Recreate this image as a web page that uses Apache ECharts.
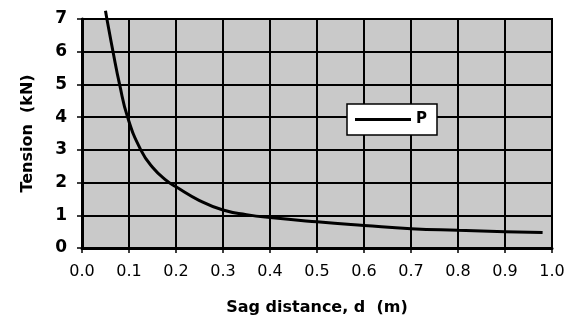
<!DOCTYPE html>
<html>
<head>
<meta charset="utf-8">
<script src="https://cdn.jsdelivr.net/npm/echarts@6/dist/echarts.min.js"></script>
<style>
  html, body { margin: 0; padding: 0; background: #fff; }
  #chart { width: 576px; height: 327px; }
</style>
</head>
<body>
<div id="chart"></div>
<script>
// Cable tension P against sag distance d
const sagDistance = [0.05, 0.053, 0.066, 0.08, 0.097, 0.125, 0.15, 0.18, 0.2, 0.25, 0.3, 0.35, 0.4, 0.5, 0.6, 0.7, 0.8, 0.9, 0.98];
const tensionP    = [7.25, 7.0, 6.0, 5.0, 4.0, 3.0, 2.47, 2.06, 1.87, 1.45, 1.16, 1.02, 0.93, 0.8, 0.69, 0.59, 0.54, 0.5, 0.47];
const seriesName = 'P';
const xTitle = 'Sag distance, d  (m)';
const yTitle = 'Tension  (kN)';

const chart = echarts.init(document.getElementById('chart'), null, { renderer: 'canvas' });

const titleFont = { fontFamily: 'DejaVu Sans', fontWeight: 'bold', fontSize: 16, color: '#000' };

chart.setOption({
  animation: false,
  backgroundColor: '#fff',
  grid: {
    left: 82, right: 24, top: 19, bottom: 79,
    show: true,
    backgroundColor: '#c9c9c9',
    borderColor: '#000',
    borderWidth: 2
  },
  legend: {
    data: [seriesName],
    icon: 'rect',
    left: 347, top: 104,
    padding: [8, 10, 8, 8],
    itemWidth: 56, itemHeight: 3, itemGap: 6,
    backgroundColor: '#fff',
    borderColor: '#000',
    borderWidth: 1.5,
    borderRadius: 0,
    itemStyle: { color: '#000' },
    textStyle: { fontFamily: 'DejaVu Sans', fontWeight: 'bold', fontSize: 15, color: '#000' }
  },
  xAxis: {
    type: 'value',
    min: 0, max: 1, interval: 0.1,
    name: xTitle,
    nameLocation: 'middle',
    nameGap: 52,
    nameTextStyle: titleFont,
    axisLine: { show: true, onZero: false, lineStyle: { color: '#000', width: 3 } },
    axisTick: { show: true, length: 5, lineStyle: { color: '#000', width: 1.5 } },
    axisLabel: {
      margin: 16,
      fontFamily: 'DejaVu Sans', fontSize: 16, color: '#000',
      formatter: v => v.toFixed(1)
    },
    splitLine: { show: true, lineStyle: { color: '#000', width: 2 } }
  },
  yAxis: {
    type: 'value',
    min: 0, max: 7, interval: 1,
    name: yTitle,
    nameLocation: 'middle',
    nameGap: 46,
    nameTextStyle: titleFont,
    axisLine: { show: true, onZero: false, lineStyle: { color: '#000', width: 3 } },
    axisTick: { show: true, length: 5, lineStyle: { color: '#000', width: 1.5 } },
    axisLabel: {
      margin: 15,
      fontFamily: 'DejaVu Sans', fontWeight: 'bold', fontSize: 17, color: '#000'
    },
    splitLine: { show: true, lineStyle: { color: '#000', width: 2 } }
  },
  series: [{
    name: seriesName,
    type: 'line',
    data: sagDistance.map((d, i) => [d, tensionP[i]]),
    smooth: 0.5,
    symbol: 'none',
    clip: false,
    lineStyle: { color: '#000', width: 3 },
    itemStyle: { color: '#000' }
  }]
});
</script>
</body>
</html>
